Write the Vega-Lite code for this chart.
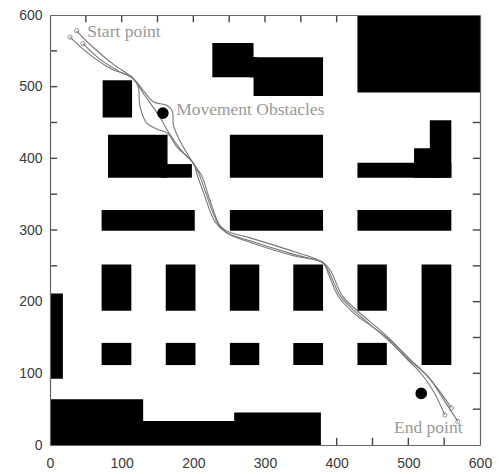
{"$schema":"https://vega.github.io/schema/vega-lite/v6.json","width":430,"height":430,"autosize":{"type":"none"},"padding":{"left":50,"top":15,"right":19,"bottom":29},"background":"white","view":{"stroke":null},
"datasets":{
"ticks":[
{"x":50,"x2":50,"y":0,"y2":10},{"x":100,"x2":100,"y":0,"y2":10},{"x":150,"x2":150,"y":0,"y2":10},{"x":200,"x2":200,"y":0,"y2":10},{"x":250,"x2":250,"y":0,"y2":10},{"x":300,"x2":300,"y":0,"y2":10},{"x":350,"x2":350,"y":0,"y2":10},{"x":400,"x2":400,"y":0,"y2":10},{"x":450,"x2":450,"y":0,"y2":10},{"x":500,"x2":500,"y":0,"y2":10},{"x":550,"x2":550,"y":0,"y2":10},
{"x":50,"x2":50,"y":590,"y2":600},{"x":100,"x2":100,"y":590,"y2":600},{"x":150,"x2":150,"y":590,"y2":600},{"x":200,"x2":200,"y":590,"y2":600},{"x":250,"x2":250,"y":590,"y2":600},{"x":300,"x2":300,"y":590,"y2":600},{"x":350,"x2":350,"y":590,"y2":600},{"x":400,"x2":400,"y":590,"y2":600},{"x":450,"x2":450,"y":590,"y2":600},{"x":500,"x2":500,"y":590,"y2":600},{"x":550,"x2":550,"y":590,"y2":600},
{"x":0,"x2":10,"y":50,"y2":50},{"x":0,"x2":10,"y":100,"y2":100},{"x":0,"x2":10,"y":150,"y2":150},{"x":0,"x2":10,"y":200,"y2":200},{"x":0,"x2":10,"y":250,"y2":250},{"x":0,"x2":10,"y":300,"y2":300},{"x":0,"x2":10,"y":350,"y2":350},{"x":0,"x2":10,"y":400,"y2":400},{"x":0,"x2":10,"y":450,"y2":450},{"x":0,"x2":10,"y":500,"y2":500},{"x":0,"x2":10,"y":550,"y2":550},
{"x":590,"x2":600,"y":50,"y2":50},{"x":590,"x2":600,"y":100,"y2":100},{"x":590,"x2":600,"y":150,"y2":150},{"x":590,"x2":600,"y":200,"y2":200},{"x":590,"x2":600,"y":250,"y2":250},{"x":590,"x2":600,"y":300,"y2":300},{"x":590,"x2":600,"y":350,"y2":350},{"x":590,"x2":600,"y":400,"y2":400},{"x":590,"x2":600,"y":450,"y2":450},{"x":590,"x2":600,"y":500,"y2":500},{"x":590,"x2":600,"y":550,"y2":550}
],
"obstacles":[
{"x":73.5,"x2":114.5,"y":457,"y2":509},
{"x":81,"x2":164,"y":373,"y2":433},
{"x":155,"x2":198,"y":373,"y2":392},
{"x":226.5,"x2":284,"y":513,"y2":561},
{"x":284,"x2":381,"y":487,"y2":541},
{"x":278,"x2":290,"y":513,"y2":541},
{"x":429,"x2":600,"y":492,"y2":600},
{"x":251,"x2":381,"y":373,"y2":433},
{"x":429,"x2":560,"y":373,"y2":394},
{"x":508,"x2":540,"y":373,"y2":414},
{"x":530,"x2":560,"y":373,"y2":453},
{"x":72,"x2":202,"y":299,"y2":328},
{"x":251,"x2":381,"y":299,"y2":328},
{"x":429,"x2":560,"y":299,"y2":328},
{"x":72,"x2":113.5,"y":187.5,"y2":252},
{"x":161.5,"x2":203,"y":187.5,"y2":252},
{"x":251,"x2":292,"y":187.5,"y2":252},
{"x":339.5,"x2":381,"y":187.5,"y2":252},
{"x":429,"x2":470,"y":187.5,"y2":252},
{"x":518.5,"x2":560,"y":111.5,"y2":252},
{"x":72,"x2":113.5,"y":111.5,"y2":142.5},
{"x":161.5,"x2":203,"y":111.5,"y2":142.5},
{"x":251,"x2":292,"y":111.5,"y2":142.5},
{"x":339.5,"x2":381,"y":111.5,"y2":142.5},
{"x":429,"x2":470,"y":111.5,"y2":142.5},
{"x":0,"x2":18,"y":92.5,"y2":211.5},
{"x":0,"x2":130,"y":0,"y2":64},
{"x":120,"x2":265,"y":0,"y2":33.5},
{"x":257,"x2":378,"y":0,"y2":45.5}
],
"paths":[
{"t":"a","i":0,"x":37,"y":578},{"t":"a","i":1,"x":60,"y":555},{"t":"a","i":2,"x":90,"y":530},{"t":"a","i":3,"x":116,"y":512},{"t":"a","i":4,"x":130,"y":495},{"t":"a","i":5,"x":144,"y":479},{"t":"a","i":6,"x":163,"y":474},{"t":"a","i":7,"x":171,"y":465},{"t":"a","i":8,"x":172,"y":447},{"t":"a","i":9,"x":181,"y":425},{"t":"a","i":10,"x":200,"y":393},{"t":"a","i":11,"x":212,"y":375},{"t":"a","i":12,"x":222,"y":345},{"t":"a","i":13,"x":238,"y":305},{"t":"a","i":14,"x":251,"y":297},{"t":"a","i":15,"x":279,"y":289},{"t":"a","i":16,"x":340,"y":270},{"t":"a","i":17,"x":381,"y":255},{"t":"a","i":18,"x":392,"y":242},{"t":"a","i":19,"x":408,"y":208},{"t":"a","i":20,"x":428,"y":188},{"t":"a","i":21,"x":470,"y":152},{"t":"a","i":22,"x":500,"y":122},{"t":"a","i":23,"x":523,"y":100},{"t":"a","i":24,"x":540,"y":80},{"t":"a","i":25,"x":560,"y":52},
{"t":"b","i":0,"x":28,"y":569},{"t":"b","i":1,"x":55,"y":545},{"t":"b","i":2,"x":85,"y":525},{"t":"b","i":3,"x":114,"y":513},{"t":"b","i":4,"x":132,"y":488},{"t":"b","i":5,"x":153,"y":458},{"t":"b","i":6,"x":165,"y":437},{"t":"b","i":7,"x":181,"y":414},{"t":"b","i":8,"x":200,"y":393},{"t":"b","i":9,"x":208,"y":378},{"t":"b","i":10,"x":218,"y":350},{"t":"b","i":11,"x":234,"y":310},{"t":"b","i":12,"x":249,"y":295},{"t":"b","i":13,"x":279,"y":285},{"t":"b","i":14,"x":340,"y":266},{"t":"b","i":15,"x":381,"y":254},{"t":"b","i":16,"x":390,"y":240},{"t":"b","i":17,"x":405,"y":208},{"t":"b","i":18,"x":426,"y":186},{"t":"b","i":19,"x":470,"y":148},{"t":"b","i":20,"x":498,"y":120},{"t":"b","i":21,"x":520,"y":97},{"t":"b","i":22,"x":535,"y":75},{"t":"b","i":23,"x":551,"y":42},
{"t":"c","i":0,"x":46,"y":560},{"t":"c","i":1,"x":70,"y":538},{"t":"c","i":2,"x":95,"y":522},{"t":"c","i":3,"x":116,"y":511},{"t":"c","i":4,"x":123,"y":500},{"t":"c","i":5,"x":125.6,"y":472},{"t":"c","i":6,"x":135,"y":449},{"t":"c","i":7,"x":149,"y":441},{"t":"c","i":8,"x":164,"y":435},{"t":"c","i":9,"x":177,"y":416},{"t":"c","i":10,"x":200,"y":393},{"t":"c","i":11,"x":205,"y":378},{"t":"c","i":12,"x":215,"y":350},{"t":"c","i":13,"x":230,"y":312},{"t":"c","i":14,"x":246,"y":296},{"t":"c","i":15,"x":279,"y":283},{"t":"c","i":16,"x":340,"y":264},{"t":"c","i":17,"x":381,"y":254},{"t":"c","i":18,"x":388,"y":240},{"t":"c","i":19,"x":402,"y":208},{"t":"c","i":20,"x":424,"y":184},{"t":"c","i":21,"x":470,"y":150},{"t":"c","i":22,"x":502,"y":118},{"t":"c","i":23,"x":528,"y":95},{"t":"c","i":24,"x":545,"y":70},{"t":"c","i":25,"x":569,"y":33}
],
"endpoints":[{"x":37,"y":578},{"x":28,"y":569},{"x":46,"y":560},{"x":560,"y":52},{"x":551,"y":42},{"x":569,"y":33}],
"movers":[{"x":157.5,"y":463},{"x":518,"y":72}],
"labels":[{"x":52,"y":576,"label":"Start point"},{"x":176,"y":467,"label":"Movement Obstacles"},{"x":480,"y":24,"label":"End point"}]
},
"layer":[
{"data":{"name":"ticks"},"mark":{"type":"rule","color":"#444","strokeWidth":1.4},
"encoding":{"x2":{"field":"x2"},"y2":{"field":"y2"},
"x":{"field":"x","type":"quantitative","scale":{"domain":[0,600],"nice":false},"axis":null},
"y":{"field":"y","type":"quantitative","scale":{"domain":[0,600],"nice":false},"axis":null}}},
{"data":{"name":"obstacles"},"mark":{"type":"rect","color":"#000","strokeWidth":0},
"encoding":{"x2":{"field":"x2"},"y2":{"field":"y2"},
"x":{"field":"x","type":"quantitative","scale":{"domain":[0,600],"nice":false},"axis":{"orient":"bottom","title":null,"values":[0,100,200,300,400,500,600],"ticks":false,"domainColor":"#666","domainWidth":1.2,"grid":false,"labelFont":"Liberation Sans","labelFontSize":14,"labelColor":"#3a3a3a","labelPadding":11,"zindex":1,"labelFlush":false,"labelOverlap":false}},
"y":{"field":"y","type":"quantitative","scale":{"domain":[0,600],"nice":false},"axis":{"orient":"left","title":null,"values":[0,100,200,300,400,500,600],"ticks":false,"domainColor":"#666","domainWidth":1.2,"grid":false,"labelFont":"Liberation Sans","labelFontSize":14,"labelColor":"#3a3a3a","labelPadding":8,"zindex":1,"labelOverlap":false}}
}},
{"data":{"name":"paths"},"mark":{"type":"line","interpolate":"catmull-rom","color":"#777","strokeWidth":1.1},
"encoding":{"detail":{"field":"t"},"order":{"field":"i","type":"ordinal"},
"x":{"field":"x","type":"quantitative","scale":{"domain":[0,600],"nice":false},"axis":{"orient":"top","title":null,"values":[0,600],"labels":false,"ticks":false,"domainColor":"#666","domainWidth":1.2,"grid":false,"zindex":1}},
"y":{"field":"y","type":"quantitative","scale":{"domain":[0,600],"nice":false},"axis":{"orient":"right","title":null,"values":[0,600],"labels":false,"ticks":false,"domainColor":"#666","domainWidth":1.2,"grid":false,"zindex":1}}
}},
{"data":{"name":"endpoints"},"mark":{"type":"point","shape":"circle","filled":false,"stroke":"#666","strokeWidth":1,"size":18},"encoding":{"x":{"field":"x","type":"quantitative","scale":{"domain":[0,600],"nice":false},"axis":null},"y":{"field":"y","type":"quantitative","scale":{"domain":[0,600],"nice":false},"axis":null}}},
{"data":{"name":"movers"},"mark":{"type":"point","shape":"circle","filled":true,"color":"#000","opacity":1,"size":135},"encoding":{"x":{"field":"x","type":"quantitative","scale":{"domain":[0,600],"nice":false},"axis":null},"y":{"field":"y","type":"quantitative","scale":{"domain":[0,600],"nice":false},"axis":null}}},
{"data":{"name":"labels"},"mark":{"type":"text","align":"left","baseline":"middle","font":"Liberation Serif","fontSize":17.5,"color":"#999"},"encoding":{"text":{"field":"label"},"x":{"field":"x","type":"quantitative","scale":{"domain":[0,600],"nice":false},"axis":null},"y":{"field":"y","type":"quantitative","scale":{"domain":[0,600],"nice":false},"axis":null}}}
],
"resolve":{"scale":{"x":"independent","y":"independent"},"axis":{"x":"independent","y":"independent"}}
}
